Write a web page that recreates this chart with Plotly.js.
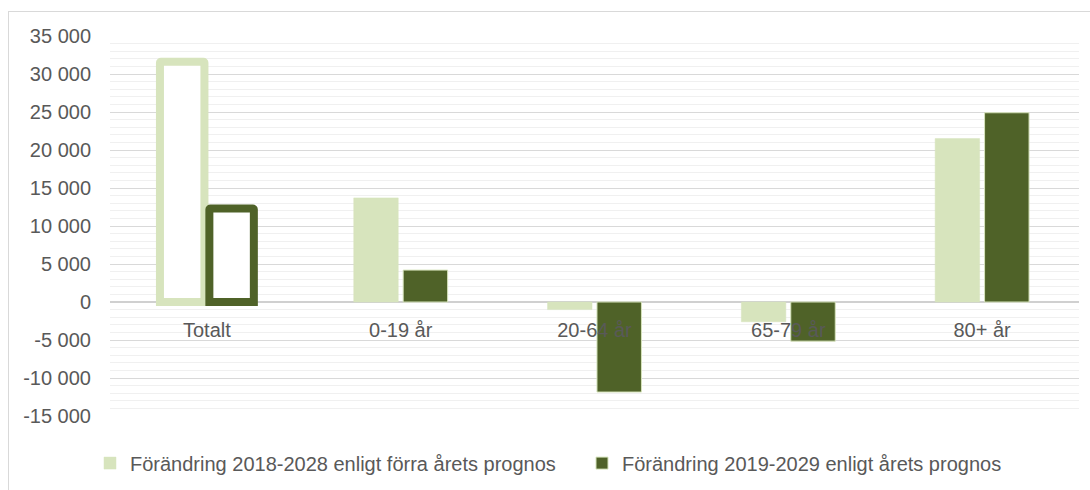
<!DOCTYPE html>
<html>
<head>
<meta charset="utf-8">
<script src="https://cdn.jsdelivr.net/npm/plotly.js-dist@3.0.1/plotly.min.js"></script>
<style>
  body { margin: 0; background: #ffffff; }
  #chart { width: 1090px; height: 490px; }
  #frame {
    position: absolute; left: 8px; top: 11px; width: 1100px; height: 500px;
    border: 1.5px solid #d9d9d9; pointer-events: none;
  }
</style>
</head>
<body>
<div id="chart"></div>
<div id="frame"></div>
<script>
  // Categories and series values
  const categories = ['Totalt', '0-19 år', '20-64 år', '65-79 år', '80+ år'];
  const prevForecast = [31600, 13700, -1000, -2600, 21500];
  const thisForecast = [12300, 4200, -11850, -5150, 24900];
  const seriesNames = [
    'Förändring 2018-2028 enligt förra årets prognos',
    'Förändring 2019-2029 enligt årets prognos'
  ];
  const tickVals = [-15000, -10000, -5000, 0, 5000, 10000, 15000, 20000, 25000, 30000, 35000];
  const tickText = ['-15 000', '-10 000', '-5 000', '0', '5 000', '10 000', '15 000', '20 000', '25 000', '30 000', '35 000'];

  const lightGreen = '#d7e4bd';
  const darkGreen = '#4f6228';
  const fontFamily = 'Liberation Sans, Arial, sans-serif';
  const textColor = '#595959';

  const plotData = [
    {
      name: seriesNames[0],
      x: categories,
      y: prevForecast,
      type: 'bar',
      offsetgroup: 'a',
      legend: 'legend',
      marker: { color: lightGreen, line: { color: lightGreen, width: 0.5 } }
    },
    {
      name: seriesNames[1],
      x: categories,
      y: thisForecast,
      type: 'bar',
      offsetgroup: 'b',
      legend: 'legend2',
      marker: { color: darkGreen, line: { color: lightGreen, width: 1 } }
    },
    // Highlighted outline bars for the total
    {
      x: categories.slice(0, 1),
      y: prevForecast.slice(0, 1),
      type: 'bar',
      offsetgroup: 'a',
      showlegend: false,
      marker: { color: '#ffffff', cornerradius: 1, line: { color: lightGreen, width: 8 } }
    },
    {
      x: categories.slice(0, 1),
      y: thisForecast.slice(0, 1),
      type: 'bar',
      offsetgroup: 'b',
      showlegend: false,
      marker: { color: '#ffffff', cornerradius: 1, line: { color: darkGreen, width: 8 } }
    }
  ];

  const legendStyle = (xPos) => ({
    orientation: 'h',
    x: xPos,
    xanchor: 'left',
    y: -0.124,
    yanchor: 'middle',
    itemwidth: 30,
    font: { family: fontFamily, size: 20, color: textColor },
    bgcolor: 'rgba(0,0,0,0)'
  });

  const layout = {
    width: 1090,
    height: 490,
    margin: { l: 110, r: 11, t: 36, b: 74, autoexpand: false },
    paper_bgcolor: '#ffffff',
    plot_bgcolor: '#ffffff',
    font: { family: fontFamily, size: 20, color: textColor },
    barmode: 'group',
    bargap: 0.49,
    bargroupgap: 0.1,
    xaxis: {
      type: 'category',
      anchor: 'free',
      position: 0.3,
      showgrid: false,
      showline: false,
      ticks: '',
      ticklabelstandoff: 14,
      tickfont: { family: fontFamily, size: 20, color: textColor },
      fixedrange: true
    },
    yaxis: {
      range: [-15000, 35000],
      tickmode: 'array',
      tickvals: tickVals,
      ticktext: tickText,
      tickfont: { family: fontFamily, size: 20, color: textColor },
      ticklabelstandoff: 18,
      showgrid: true,
      gridcolor: '#d9d9d9',
      gridwidth: 1,
      minor: { dtick: 1000, showgrid: true, gridcolor: '#f0f0f0', gridwidth: 1 },
      zeroline: true,
      zerolinecolor: '#d0d0d0',
      zerolinewidth: 1.5,
      showline: false,
      fixedrange: true
    },
    legend: legendStyle(-20 / 969),
    legend2: legendStyle(472 / 969),
    showlegend: true,
    hovermode: false
  };

  Plotly.newPlot('chart', plotData, layout, { displayModeBar: false, staticPlot: true });
</script>
</body>
</html>
